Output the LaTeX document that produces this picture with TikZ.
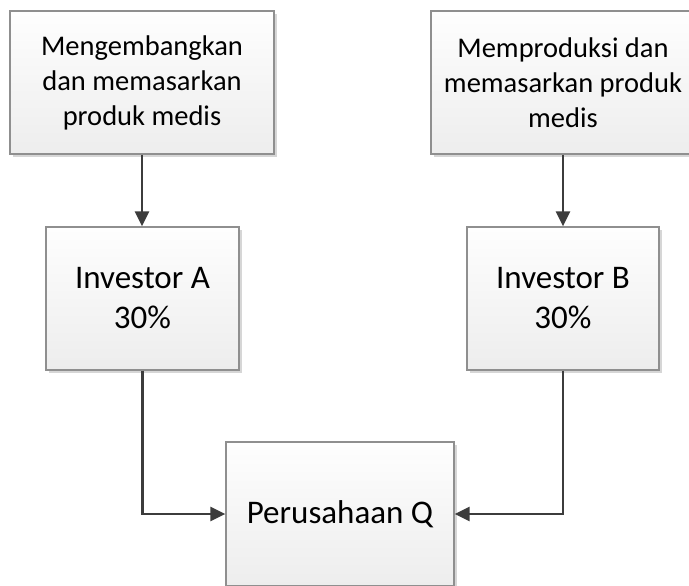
\documentclass[tikz,border=0pt]{standalone}
\usepackage{fontspec}
\setmainfont{Carlito}
\usetikzlibrary{arrows.meta,shadows}
\definecolor{boxline}{HTML}{8F8F8F}
\definecolor{boxtop}{HTML}{FEFEFE}
\definecolor{boxbottom}{HTML}{EDEDED}
\definecolor{linkcol}{HTML}{3C3C3C}
\definecolor{shadowcol}{HTML}{D6D6D6}
\tikzset{
  box/.style={draw=boxline, line width=1.2pt, top color=boxtop, bottom color=boxbottom,
    align=center, inner sep=0pt,
    drop shadow={shadow xshift=3pt, shadow yshift=-3pt, fill=shadowcol, opacity=1}},
  small/.style={font=\fontsize{28.5}{35}\selectfont},
  big/.style={font=\fontsize{33}{40}\selectfont},
  link/.style={draw=linkcol, line width=2.6pt, -{Triangle[length=15pt,width=14pt]}},
}
\begin{document}
\begin{tikzpicture}[x=1pt,y=-1pt]
  \useasboundingbox (0,0) rectangle (689,586);
  \node[box, small, minimum width=264pt, minimum height=143pt] (dev) at (142,82.5)
    {Mengembangkan\\dan memasarkan\\produk medis};
  \node[box, small, minimum width=264pt, minimum height=143pt] (prod) at (563,82.5)
    {Memproduksi dan\\memasarkan produk\\medis};
  \node[box, big, minimum width=193pt, minimum height=143pt] (ia) at (142.5,298.5)
    {Investor A\\30\%};
  \node[box, big, minimum width=192pt, minimum height=143pt] (ib) at (563,298.5)
    {Investor B\\30\%};
  \node[box, big, minimum width=228pt, minimum height=144pt] (pq) at (340,514)
    {Perusahaan Q};
  \draw[link] (dev.south) -- (dev.south |- ia.north);
  \draw[link] (prod.south) -- (prod.south |- ib.north);
  \draw[link] (ia.south) |- (pq.west);
  \draw[link] (ib.south) |- (pq.east);
\end{tikzpicture}
\end{document}
